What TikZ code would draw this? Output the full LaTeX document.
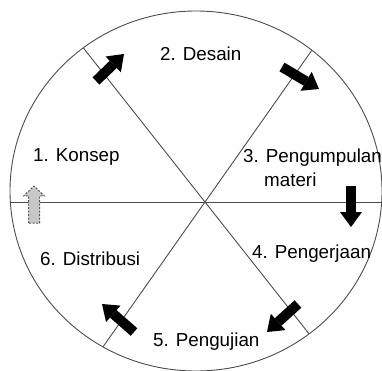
\documentclass[tikz,border=0pt]{standalone}
\usepackage{fontspec}
\setmainfont{Liberation Sans}
\usetikzlibrary{arrows.meta}
\begin{document}
\begin{tikzpicture}[x=1pt,y=-1pt,
  rim/.style={draw=black!70, line width=0.9pt},
  spoke/.style={draw=black!70, line width=0.9pt},
  blk/.style={draw=black, line width=10pt, -{Triangle[width=22pt,length=15pt,line width=0pt]}},
  ghost/.style={draw=black!65, fill=black!22, line width=1pt, dash pattern=on 2pt off 1.5pt},
  lbl/.style={anchor=base west, inner sep=0pt, font=\fontsize{18.8}{20}\selectfont}]
\useasboundingbox (0,0) rectangle (382,371);
% spokes
\coordinate (C) at (205,202);
\coordinate (s1a) at (-95,-178);
\coordinate (s1b) at (505,582);
\coordinate (s2a) at (505,-224);
\coordinate (s2b) at (-95,628);
\coordinate (h1) at (0,202);
\coordinate (h2) at (400,202);
\begin{scope}
  \clip (196,191) ellipse [x radius=186pt, y radius=180pt];
  \draw[spoke] (s1a) -- (s1b);
  \draw[spoke] (s2a) -- (s2b);
  \draw[spoke] (h1) -- (h2);
\end{scope}
\draw[rim] (196,191) ellipse [x radius=186pt, y radius=180pt];
% black arrows
\coordinate (a1t) at (96,81);   \coordinate (a1h) at (124,54);
\coordinate (a2t) at (282,67);  \coordinate (a2h) at (319,89);
\coordinate (a3t) at (351,186); \coordinate (a3h) at (351,227);
\coordinate (a4t) at (298,304); \coordinate (a4h) at (267,332);
\coordinate (a5t) at (134,332); \coordinate (a5h) at (102,304);
\draw[blk] (a1t) -- (a1h);
\draw[blk] (a2t) -- (a2h);
\draw[blk] (a3t) -- (a3h);
\draw[blk] (a4t) -- (a4h);
\draw[blk] (a5t) -- (a5h);
% dashed grey arrow
\draw[ghost] (28.5,223) -- (28.5,196) -- (23.5,196) -- (34,186) -- (44.5,196) -- (39.5,196) -- (39.5,223) -- cycle;
% labels
\node[lbl] (t1) at (33,162) {1. Konsep};
\node[lbl] (t2) at (160,61) {2. Desain};
\node[lbl] (t3) at (243,163) {3. Pengumpulan};
\node[lbl] (t3b) at (264,186) {materi};
\node[lbl] (t4) at (252,258) {4. Pengerjaan};
\node[lbl] (t5) at (153,346) {5. Pengujian};
\node[lbl] (t6) at (40,265) {6. Distribusi};
\end{tikzpicture}
\end{document}
